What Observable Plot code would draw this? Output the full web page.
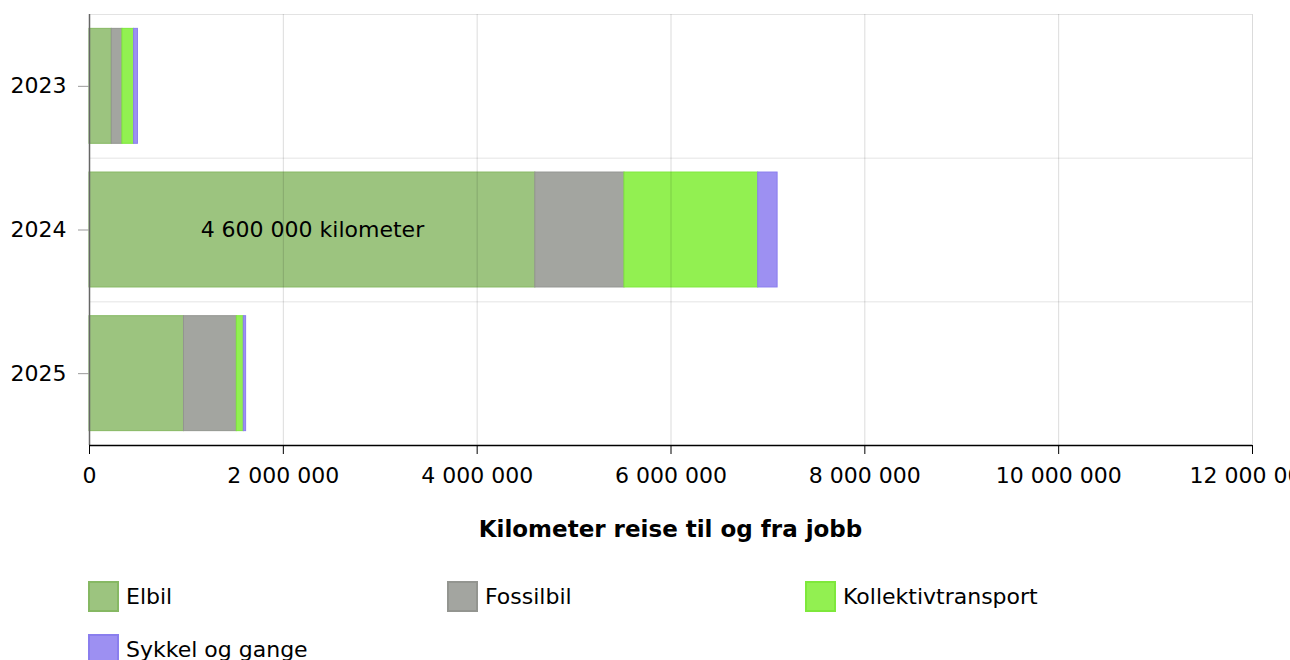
<!DOCTYPE html>
<html>
<head>
<meta charset="utf-8">
<script src="https://cdn.jsdelivr.net/npm/d3@7"></script>
<script src="https://cdn.jsdelivr.net/npm/@observablehq/plot@0.6"></script>
<style>
  html, body { margin: 0; padding: 0; background: #fff; }
  body { font-family: "DejaVu Sans", Verdana, sans-serif; color: #000; width: 1290px; height: 660px; overflow: hidden; position: relative; }
  #chart svg { display: block; }
  #xtitle { position: absolute; left: 89px; width: 1163px; top: 514px; text-align: center; font-weight: bold; font-size: 23px; line-height: 30px; }
  #legend { position: absolute; left: 88px; top: 581px; width: 1100px; display: grid; grid-template-columns: 359px 358px 358px; row-gap: 22px; }
  .item { display: flex; align-items: center; height: 31px; font-size: 22px; }
  .sw { width: 27px; height: 27px; border: 2px solid; margin-right: 7px; flex: none; }
</style>
</head>
<body>
<div id="chart"></div>
<div id="xtitle"></div>
<div id="legend"></div>
<script>
// ---- data ----
const years = [2023, 2024, 2025];
const modes = ["Elbil", "Fossilbil", "Kollektivtransport", "Sykkel og gange"];
const elbil = [230000, 4600000, 975000];
const fossilbil = [110000, 920000, 545000];
const kollektivtransport = [120000, 1380000, 72000];
const sykkelOgGange = [40000, 200000, 24000];
const fills = ["#9cc47f", "#a3a5a0", "#92f051", "#9d90f2"];
const strokes = ["#86b863", "#939590", "#7ee83b", "#8a7eee"];
const xTicks = [0, 2000000, 4000000, 6000000, 8000000, 10000000, 12000000];
const xTitle = "Kilometer reise til og fra jobb";
const barLabelYear = 2024;
const barLabelMode = "Elbil";
const barLabelText = "4 600 000 kilometer";

const series = [elbil, fossilbil, kollektivtransport, sykkelOgGange];
const rows = [];
years.forEach((y, i) => modes.forEach((m, j) => rows.push({year: y, mode: m, value: series[j][i]})));

const fmt = d3.formatLocale({decimal: ",", thousands: " ", grouping: [3], currency: ["", ""]}).format(",");
const separators = [years[0] - 0.5, ...years.map(y => y + 0.5)];

const plot = Plot.plot({
  width: 1290,
  height: 500,
  marginLeft: 89,
  marginRight: 38,
  marginTop: 14,
  marginBottom: 55,
  style: {fontFamily: "DejaVu Sans, Verdana, sans-serif", fontSize: "22px", color: "#000", background: "#fff"},
  x: {domain: [0, 12000000]},
  y: {domain: [years[0] - 0.5, years[years.length - 1] + 0.5], reverse: true},
  color: {domain: modes, range: fills},
  marks: [
    Plot.rectX(rows, Plot.stackX({
      y1: d => d.year - 0.4,
      y2: d => d.year + 0.4,
      x: "value",
      fill: "mode",
      stroke: d => strokes[modes.indexOf(d.mode)],
      strokeWidth: 1,
      order: modes
    })),
    Plot.ruleX(xTicks.slice(1), {stroke: "#000", strokeOpacity: 0.14}),
    Plot.ruleY(separators, {stroke: "#000", strokeOpacity: 0.11}),
    Plot.ruleX([0], {stroke: "#666", strokeWidth: 1.5}),
    Plot.axisX({ticks: xTicks, tickFormat: fmt, tickSize: 9, tickPadding: 13, label: null, stroke: "#000", fontSize: 22}),
    Plot.ruleY([years[years.length - 1] + 0.5], {stroke: "#000", strokeWidth: 1.5}),
    Plot.axisY({ticks: years, tickFormat: d => String(d), tickSize: 11, tickPadding: 12, label: null, stroke: "#999", fontSize: 22}),
    Plot.text(rows.filter(d => d.year === barLabelYear && d.mode === barLabelMode), {
      x: d => d.value / 2, y: "year", text: () => barLabelText, fill: "#000", fontSize: 22
    })
  ]
});
document.getElementById("chart").appendChild(plot);
document.getElementById("xtitle").textContent = xTitle;

const legend = document.getElementById("legend");
modes.forEach((m, i) => {
  const it = document.createElement("div");
  it.className = "item";
  const sw = document.createElement("div");
  sw.className = "sw";
  sw.style.background = fills[i];
  sw.style.borderColor = strokes[i];
  const t = document.createElement("span");
  t.textContent = m;
  it.appendChild(sw); it.appendChild(t);
  legend.appendChild(it);
});
</script>
</body>
</html>
